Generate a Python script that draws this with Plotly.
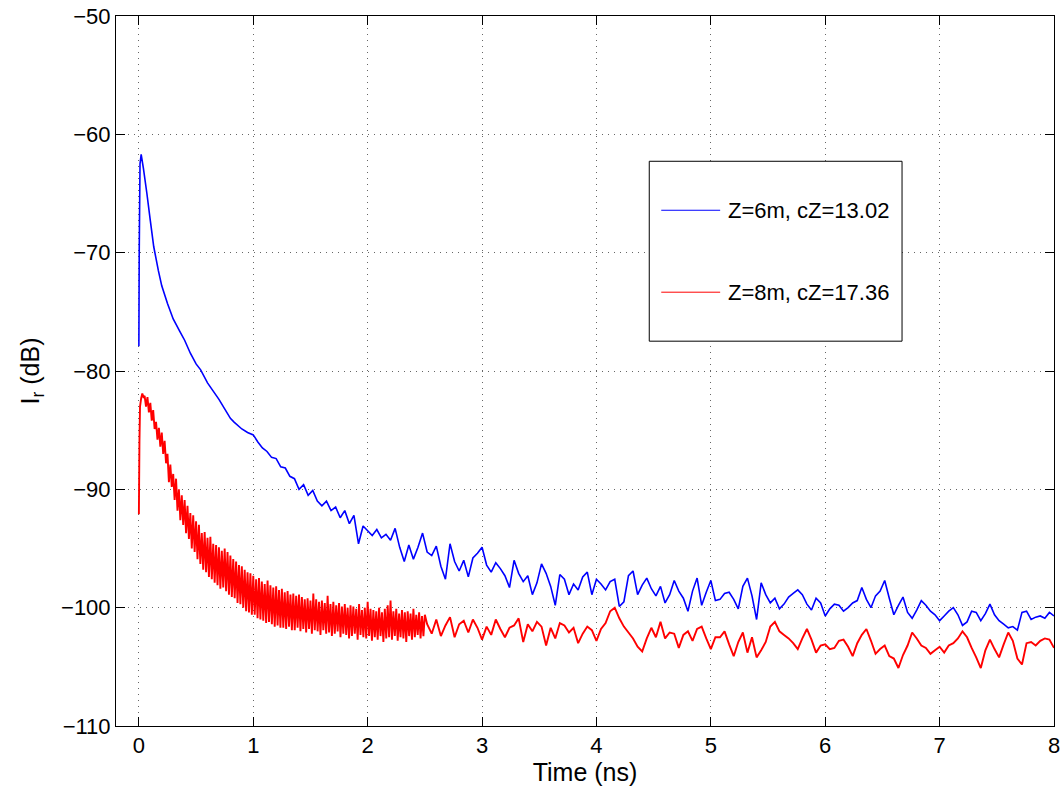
import plotly.graph_objects as go

# ---- blue curve: Z=6m ----
# early, smooth part (explicit times, ns)
blue_t_early = [0.0, 0.003, 0.01, 0.02, 0.04, 0.07, 0.1, 0.13, 0.17, 0.2, 0.25, 0.3, 0.36, 0.4,
                0.45, 0.5, 0.54, 0.6, 0.65, 0.7, 0.75, 0.8, 0.83, 0.9, 0.95, 1.0]
blue_db_early = [-77.9, -70.0, -62.5, -61.7, -62.9, -65.0, -67.3, -69.5, -71.5, -72.8, -74.3,
                 -75.6, -76.7, -77.4, -78.5, -79.4, -79.9, -81.0, -81.7, -82.4, -83.2, -84.0,
                 -84.3, -84.9, -85.2, -85.4]
# later part, sampled every 0.04 ns from 1.04 ns
blue_t0, blue_dt = 1.04, 0.04
blue_db_late = [
    -86.0, -86.5, -86.8, -87.3, -87.4, -88.1, -88.2, -88.9, -89.1, -90.0,
    -89.6, -90.5, -90.1, -91.0, -91.4, -91.0, -91.8, -91.5, -92.4, -91.8,
    -92.9, -92.2, -94.6, -93.1, -93.5, -93.9, -93.4, -94.1, -93.8, -94.3,
    -93.3, -94.9, -96.1, -94.7, -95.9, -94.9, -93.7, -95.3, -95.6, -94.8,
    -96.5, -97.6, -94.6, -96.1, -96.9, -96.0, -97.4, -95.8, -95.4, -94.9,
    -96.4, -97.0, -96.2, -96.7, -97.3, -98.3, -96.0, -97.1, -97.8, -97.3,
    -98.9, -97.9, -96.3, -97.1, -98.2, -99.8, -97.2, -97.6, -98.9, -98.0,
    -98.5, -97.4, -97.0, -98.9, -97.6, -98.0, -98.5, -97.8, -97.6, -99.9,
    -99.5, -97.3, -96.9, -98.9, -98.1, -97.5, -98.4, -99.0, -98.2, -99.6,
    -98.9, -97.7, -98.6, -99.2, -100.3, -98.6, -97.5, -99.8, -98.7, -97.7,
    -99.4, -99.3, -98.8, -98.7, -99.3, -100.1, -98.2, -97.5, -99.0, -101.0,
    -97.9, -98.9, -99.6, -99.2, -100.1, -99.7, -99.1, -98.8, -98.5, -98.9,
    -99.7, -100.2, -99.2, -99.6, -100.7, -100.1, -99.7, -99.8, -100.3, -100.0,
    -99.6, -99.4, -98.3, -99.3, -100.0, -99.0, -98.6, -97.7, -99.2, -100.6,
    -99.8, -99.1, -100.4, -100.9, -100.2, -99.4, -99.8, -100.3, -100.6, -101.1,
    -100.7, -100.3, -100.0, -100.6, -101.5, -101.2, -100.3, -100.4, -101.1, -100.5,
    -99.7, -100.6, -101.1, -101.4, -101.7, -101.6, -101.9, -100.4, -100.3, -101.0,
    -100.8, -100.7, -100.9, -100.4, -100.7]

# ---- red curve: Z=8m ----
red_t_early = [0.0, 0.005, 0.01, 0.02, 0.03, 0.04, 0.05]
red_db_early = [-92.1, -86.0, -83.0, -82.3, -81.9, -82.2, -82.1]
# very noisy band, sampled every 0.0125 ns from 0.0625 ns
red_t0_band, red_dt_band = 0.0625, 0.0125
red_db_band = [
    -83.0, -82.2, -83.5, -82.7, -84.2, -83.3, -84.9, -84.3,
    -85.8, -84.8, -86.4, -85.2, -87.0, -85.9, -87.8, -87.0,
    -89.4, -87.9, -89.8, -88.7, -90.9, -89.1, -91.8, -90.0,
    -92.6, -90.5, -93.0, -90.9, -93.7, -91.4, -94.2, -92.0,
    -95.0, -92.2, -95.3, -92.7, -95.9, -93.0, -96.3, -93.7,
    -96.8, -93.6, -97.0, -94.1, -97.4, -94.0, -97.6, -94.6,
    -97.9, -94.7, -98.1, -94.9, -98.4, -95.2, -98.3, -95.0,
    -98.6, -95.3, -98.9, -95.6, -99.1, -95.9, -99.2, -96.1,
    -99.6, -96.4, -99.7, -96.5, -100.0, -96.8, -100.3, -97.0,
    -100.4, -97.1, -100.6, -97.3, -100.6, -97.6, -100.9, -97.5,
    -101.0, -97.8, -101.1, -98.0, -101.3, -97.7, -101.2, -98.1,
    -101.4, -98.3, -101.6, -98.2, -101.5, -98.5, -101.7, -98.4,
    -101.7, -98.7, -101.8, -98.6, -101.6, -98.9, -101.9, -98.8,
    -101.9, -99.0, -101.7, -98.9, -102.0, -99.1, -101.8, -99.3,
    -102.1, -99.2, -101.8, -99.4, -102.2, -98.8, -101.9, -99.3,
    -102.0, -99.5, -102.3, -99.4, -101.9, -99.6, -102.2, -99.0,
    -102.1, -99.7, -102.4, -99.5, -102.2, -99.8, -102.0, -99.6,
    -102.5, -99.9, -102.2, -99.7, -102.3, -100.0, -102.6, -99.8,
    -102.4, -99.9, -102.2, -100.1, -102.7, -99.7, -102.3, -100.2,
    -102.5, -100.0, -102.6, -99.5, -102.4, -100.1, -102.8, -100.2,
    -102.5, -100.3, -102.7, -100.0, -102.4, -100.4, -102.9, -100.1,
    -102.6, -99.8, -102.5, -99.4, -102.7, -100.3, -102.4, -100.1,
    -102.8, -100.5, -102.5, -100.2, -102.6, -100.4, -102.9, -100.3,
    -102.4, -100.5, -102.7, -100.1, -102.5, -100.6, -102.3, -100.4,
    -102.6, -100.7, -102.4, -100.6]
# calmer tail, sampled every 0.04 ns from 2.52 ns
red_t0_tail, red_dt_tail = 2.52, 0.04
red_db_tail = [
    -101.4, -102.2, -101.0, -102.4, -101.5, -100.8, -102.5, -101.4, -101.1, -102.1,
    -101.0, -101.7, -102.7, -101.6, -102.3, -101.0, -101.8, -102.5, -101.7, -101.5,
    -100.9, -102.9, -101.4, -102.0, -101.2, -101.6, -103.2, -101.7, -102.6, -101.3,
    -101.5, -102.1, -101.7, -103.0, -102.2, -101.6, -101.9, -102.8, -101.8, -101.3,
    -100.3, -100.0, -100.9, -101.6, -102.1, -102.6, -103.3, -103.7, -102.6, -101.7,
    -102.5, -101.2, -102.6, -102.1, -102.2, -103.4, -102.3, -102.0, -102.8, -101.8,
    -101.6, -102.6, -103.5, -102.5, -102.5, -102.0, -103.1, -104.1, -102.9, -102.1,
    -103.8, -102.5, -104.2, -103.6, -102.9, -101.6, -101.2, -102.0, -102.3, -102.6,
    -103.0, -103.5, -102.6, -101.8, -102.7, -103.8, -103.2, -103.1, -103.5, -103.4,
    -102.8, -102.7, -103.3, -104.1, -103.0, -102.3, -101.8, -102.8, -103.9, -103.5,
    -103.2, -104.1, -104.3, -105.1, -104.0, -103.2, -102.1, -102.6, -103.2, -103.4,
    -103.9, -103.6, -103.3, -103.8, -103.2, -103.0, -102.6, -102.0, -102.5, -103.4,
    -104.2, -105.1, -103.6, -102.7, -103.5, -104.2, -103.1, -102.1, -102.8, -104.3,
    -104.8, -103.0, -102.9, -103.2, -102.8, -102.6, -102.7, -103.4]

series_names = ['Z=6m, cZ=13.02', 'Z=8m, cZ=17.36']
x_ticks = [0, 1, 2, 3, 4, 5, 6, 7, 8]
y_ticks = [-110, -100, -90, -80, -70, -60, -50]


def sample_times(t0, dt, n):
    # uniformly sampled acquisition times
    return [round(t0 + i * dt, 4) for i in range(n)]


blue_t = blue_t_early + sample_times(blue_t0, blue_dt, len(blue_db_late))
blue_db = blue_db_early + blue_db_late
red_t = (red_t_early + sample_times(red_t0_band, red_dt_band, len(red_db_band))
         + sample_times(red_t0_tail, red_dt_tail, len(red_db_tail)))
red_db = red_db_early + red_db_band + red_db_tail

font = dict(family='Liberation Sans, Arial, sans-serif', size=22, color='black')
title_font = dict(family='Liberation Sans, Arial, sans-serif', size=25, color='black')

fig = go.Figure()
fig.add_trace(go.Scatter(x=blue_t, y=blue_db, mode='lines', name=series_names[0],
                         line=dict(color='#0000ff', width=1.6, simplify=False)))
fig.add_trace(go.Scatter(x=red_t, y=red_db, mode='lines', name=series_names[1],
                         line=dict(color='#ff0000', width=1.9, simplify=False)))

axis_style = dict(showline=True, linecolor='black', linewidth=1, mirror='ticks',
                  ticks='inside', ticklen=9, tickcolor='black', tickwidth=1,
                  showgrid=True, gridcolor='#666666', griddash='1px,5px', gridwidth=1,
                  zeroline=False, tickfont=font)

fig.update_xaxes(range=[-0.2, 8], tickvals=x_ticks,
                 title=dict(text='Time (ns)', font=title_font, standoff=0), **axis_style)
fig.update_yaxes(range=[-110, -50], tickvals=y_ticks,
                 title=dict(text='I<sub>r</sub> (dB)', font=title_font, standoff=14), **axis_style)

# legend box drawn by hand, MATLAB-style
fig.add_shape(type='rect', xref='paper', yref='paper', x0=0.5685, x1=0.8380, y0=0.5420, y1=0.7954,
              line=dict(color='black', width=1), fillcolor='white', layer='above')
fig.add_shape(type='line', xref='paper', yref='paper', x0=0.5813, x1=0.6441, y0=0.7264, y1=0.7264,
              line=dict(color='#0000ff', width=1), layer='above')
fig.add_shape(type='line', xref='paper', yref='paper', x0=0.5813, x1=0.6441, y0=0.6110, y1=0.6110,
              line=dict(color='#ff0000', width=1), layer='above')
for name, yy in zip(series_names, [0.7264, 0.6110]):
    fig.add_annotation(x=0.6505, y=yy, xref='paper', yref='paper', text=name, showarrow=False,
                       xanchor='left', yanchor='middle', font=font)

fig.update_layout(width=1064, height=789, showlegend=False,
                  paper_bgcolor='white', plot_bgcolor='white',
                  margin=dict(l=116, r=10, t=16, b=63, autoexpand=False),
                  font=font)

fig.write_html("out.html", config={'displayModeBar': False},
               post_script="document.body.style.margin='0';document.body.style.overflow='hidden';")
